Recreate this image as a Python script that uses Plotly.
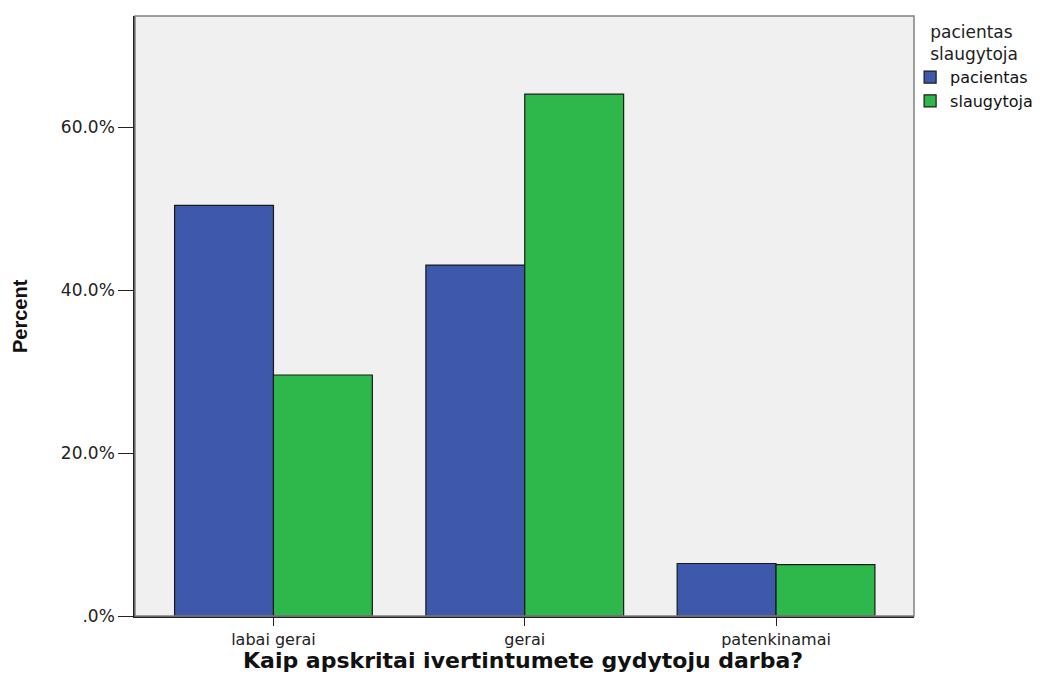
import plotly.graph_objects as go

categories = ["labai gerai", "gerai", "patenkinamai"]
pacientas = [50.45, 43.1, 6.45]
slaugytoja = [29.6, 64.1, 6.3]
y_tickvals = [0, 20, 40, 60]
y_ticktext = [".0%", "20.0%", "40.0%", "60.0%"]

TICK_FONT = "DejaVu Sans, Verdana, sans-serif"

fig = go.Figure()
fig.add_trace(go.Bar(name="pacientas", x=categories, y=pacientas,
                     marker=dict(color="#3e58ac", line=dict(color="#1a1a1a", width=1.2))))
fig.add_trace(go.Bar(name="slaugytoja", x=categories, y=slaugytoja,
                     marker=dict(color="#2eb84b", line=dict(color="#1a1a1a", width=1.2))))

fig.update_layout(
    width=1048, height=675,
    margin=dict(l=127, r=142, t=8, b=67, autoexpand=False),
    paper_bgcolor="white", plot_bgcolor="#f0f0f0",
    barmode="group", bargap=0.213, bargroupgap=0,
    font=dict(family=TICK_FONT, size=14, color="#222"),
    showlegend=True,
    legend=dict(
        title=dict(text="pacientas<br>slaugytoja", side="top center",
                   font=dict(size=17, family=TICK_FONT, color="#222")),
        x=0.995, xanchor="left", y=1.0, yanchor="top",
        bgcolor="rgba(0,0,0,0)", font=dict(size=16, family=TICK_FONT, color="#111"),
        itemwidth=30, tracegroupgap=0,
    ),
    xaxis=dict(
        range=[-0.551, 2.549], showline=True, linecolor="#222", linewidth=1.5,
        ticks="outside", ticklen=8, tickcolor="#222", mirror=False,
        tickfont=dict(size=16, family=TICK_FONT), automargin=False,
    ),
    yaxis=dict(
        range=[0, 73.7], tickvals=y_tickvals, ticktext=y_ticktext,
        showline=True, linecolor="#222", linewidth=1.5, showgrid=False, zeroline=False,
        ticks="outside", ticklen=15, tickcolor="#222",
        tickfont=dict(size=17, family=TICK_FONT), automargin=False,
    ),
)
fig.add_shape(type="rect", xref="paper", yref="paper", x0=0, y0=0, x1=1, y1=1,
              line=dict(color="#808080", width=1.5), fillcolor="rgba(0,0,0,0)", layer="above")
fig.add_annotation(text="<b>Percent</b>", xref="paper", yref="paper", x=-0.1476, y=0.5,
                   xanchor="center", yanchor="middle", textangle=-90, showarrow=False,
                   font=dict(size=20, family="Liberation Sans, Arial", color="#111"))
fig.add_annotation(text="<b>Kaip apskritai ivertintumete gydytoju darba?</b>",
                   xref="paper", yref="paper", x=0.498, y=-0.074,
                   xanchor="center", yanchor="middle", showarrow=False,
                   font=dict(size=22, family=TICK_FONT, color="#111"))

fig.write_html("out.html")
